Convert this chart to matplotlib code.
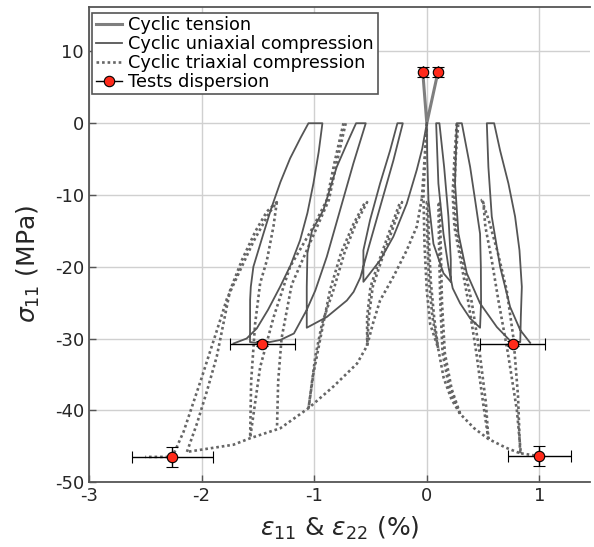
import matplotlib
matplotlib.use("Agg")
import matplotlib.pyplot as plt

plt.rcParams['font.family'] = ['DejaVu Sans']
plt.rcParams['mathtext.fontset'] = 'dejavusans'
plt.rcParams['axes.unicode_minus'] = False

# ---- cyclic tension (two short branches from the origin)
tens_x = [-0.036, 0.0, 0.10]
tens_y = [7.2, 0.0, 7.2]

# ---- cyclic uniaxial compression, axial strain (left)
uni_ax_x = [0, -0.04, -0.089, -0.178, -0.297, -0.415, -0.563,
            -0.563, -0.504, -0.415, -0.326, -0.261, -0.213,
            -0.297, -0.415, -0.52, -0.59, -0.65, -0.71, -0.888, -1.066,
            -1.066, -1.06, -1.02, -0.918, -0.80, -0.70, -0.628, -0.542,
            -0.652, -0.77, -0.888, -0.99, -1.066, -1.18, -1.30, -1.46, -1.57,
            -1.569, -1.563, -1.54, -1.451, -1.38, -1.30, -1.214, -1.12, -1.051, -0.927,
            -0.96, -1.007, -1.06, -1.125, -1.21, -1.303, -1.41, -1.51, -1.60, -1.717]
uni_ax_y = [0, -3.5, -6.5, -11.2, -15.8, -19.1, -22.1,
            -17.7, -13.5, -8.4, -3.8, 0, 0,
            -5.2, -11.7, -17.5, -21.5, -23.5, -24.7, -27.0, -28.5,
            -22.8, -18.1, -15.0, -12.1, -6.1, -2.5, 0, 0,
            -5.6, -12.1, -18.6, -23.3, -26.0, -29.3, -30.2, -30.7, -30.5,
            -24.6, -22.8, -20.0, -15.4, -11.8, -8.2, -4.9, -2.0, 0, 0,
            -4.0, -8.4, -12.5, -16.3, -19.8, -22.8, -26.0, -28.6, -30.0, -30.7]

# ---- cyclic uniaxial compression, lateral strain (right)
uni_lat_x = [0, 0.004, 0.015, 0.059, 0.148, 0.213,
             0.213, 0.192, 0.154, 0.112, 0.083,
             0.103, 0.148, 0.192, 0.23, 0.296, 0.385, 0.473,
             0.482, 0.48, 0.473, 0.429, 0.385, 0.311, 0.266,
             0.251, 0.281, 0.355, 0.473, 0.622, 0.764, 0.83,
             0.835, 0.844, 0.823, 0.784, 0.725, 0.651, 0.598, 0.533,
             0.547, 0.577, 0.651, 0.74, 0.829, 0.918]
uni_lat_y = [0, -5.0, -10.7, -16.8, -20.9, -22.1,
             -19.0, -13.0, -6.1, 0, 0,
             -8.4, -15.4, -20.0, -23.0, -25.1, -27.2, -28.5,
             -25.0, -20.0, -15.4, -10.7, -6.1, 0, 0,
             -8.4, -15.4, -20.9, -25.1, -28.4, -30.7, -30.5,
             -27.0, -22.8, -17.7, -13.0, -8.4, -3.8, 0, 0,
             -6.1, -13.0, -20.0, -25.6, -28.8, -30.6]

# ---- cyclic triaxial compression, axial strain (left)
tri_hyd_x = [0.0, -0.02, -0.044]
tri_hyd_y = [0.0, -5.0, -10.5]
tri_ax_env_x = [-0.044, -0.089, -0.178, -0.297, -0.415, -0.48, -0.53, -0.62,
                -0.83, -1.05, -1.30, -1.569, -1.717, -2.13]
tri_ax_env_y = [-10.5, -14.4, -17.7, -21.4, -24.7, -28.0, -31.0, -33.5,
                -36.7, -39.7, -42.5, -43.9, -44.8, -45.8]
tri_ax_l1_x = [-0.53, -0.53, -0.50, -0.42, -0.33, -0.237,
               -0.22, -0.31, -0.40, -0.48, -0.515, -0.53]
tri_ax_l1_y = [-31.0, -27.0, -22.8, -19.0, -15.0, -11.0,
               -11.0, -15.0, -19.0, -22.8, -27.0, -31.0]
tri_ax_l2_x = [-1.05, -1.007, -0.948, -0.86, -0.76, -0.65, -0.548,
               -0.53, -0.63, -0.73, -0.83, -0.93, -0.99, -1.05]
tri_ax_l2_y = [-39.7, -34.9, -30.2, -23.3, -18.0, -14.0, -11.0,
               -11.0, -14.0, -18.0, -23.3, -27.9, -32.5, -39.7]
tri_ax_l3a_x = [-0.74, -0.82, -0.888, -1.007, -1.214, -1.36, -1.48, -1.569]
tri_ax_l3a_y = [0.0, -5.5, -10.7, -14.4, -20.0, -27.0, -34.0, -43.9]
tri_ax_l3b_x = [-0.72, -0.80, -0.87, -0.99, -1.20, -1.29, -1.32, -1.33]
tri_ax_l3b_y = [0.0, -5.5, -10.7, -15.0, -22.5, -30.0, -36.0, -42.3]
tri_ax_in_x = [-1.332, -1.362, -1.42, -1.48, -1.525, -1.56, -1.569]
tri_ax_in_y = [-11.0, -14.4, -19.1, -22.3, -28.0, -36.0, -43.9]
tri_ax_l4_x = [-2.13, -2.04, -1.95, -1.865, -1.747, -1.64, -1.52, -1.42, -1.332,
               -1.40, -1.54, -1.658, -1.776, -1.836, -2.0, -2.16, -2.26, -2.5]
tri_ax_l4_y = [-45.8, -41.8, -37.2, -32.5, -23.3, -19.0, -15.0, -12.3, -11.0,
               -12.5, -16.5, -20.5, -24.5, -27.5, -35.5, -43.0, -46.5, -46.5]

# ---- cyclic triaxial compression, lateral strain (right)
tri_lat_hyd_x = [0.0, -0.015, -0.03]
tri_lat_hyd_y = [0.0, -5.0, -10.0]
tri_lat_env_x = [-0.03, -0.02, 0.0, 0.03, 0.1, 0.15, 0.22, 0.296, 0.42, 0.547,
                 0.7, 0.829]
tri_lat_env_y = [-10.0, -17.0, -23.3, -28.0, -31.3, -35.5, -38.5, -40.5, -42.5,
                 -44.0, -45.2, -46.0]
tri_lat_r1_x = [0.1, 0.05, 0.02, 0.005, 0.0, 0.012, 0.018, 0.035, 0.065, 0.1]
tri_lat_r1_y = [-31.3, -27.0, -22.0, -16.0, -11.0, -11.0, -16.0, -22.0, -27.0, -31.3]
tri_lat_r2_x = [0.296, 0.2, 0.14, 0.12, 0.11, 0.103,
                0.115, 0.125, 0.135, 0.16, 0.22, 0.296]
tri_lat_r2_y = [-40.5, -37.0, -32.0, -25.0, -18.0, -11.0,
                -11.0, -18.0, -25.0, -32.0, -37.0, -40.5]
tri_lat_r3_x = [0.547, 0.50, 0.44, 0.37, 0.30, 0.245, 0.23, 0.245, 0.266,
                0.28, 0.255, 0.245, 0.26, 0.325, 0.40, 0.47, 0.525, 0.547]
tri_lat_r3_y = [-44.0, -39.0, -32.0, -25.0, -19.1, -14.4, -9.8, -5.0, 0.0,
                0.0, -5.0, -9.8, -14.4, -19.5, -25.0, -32.0, -39.0, -44.0]
tri_lat_r4_x = [0.829, 0.81, 0.77, 0.71, 0.63, 0.55, 0.488,
                0.50, 0.52, 0.577, 0.636, 0.72, 0.80, 0.835, 1.0]
tri_lat_r4_y = [-46.0, -38.0, -30.0, -23.3, -18.0, -13.5, -10.7,
                -10.7, -14.4, -19.1, -24.7, -32.0, -40.0, -46.0, -46.4]

# ---- tests dispersion (mean and scatter)
test_x = [-0.036, 0.10, -1.46, 0.764, -2.26, 1.0]
test_y = [7.2, 7.2, -30.7, -30.7, -46.5, -46.4]
test_xerr = [0.0, 0.0, 0.29, 0.29, 0.36, 0.28]
test_yerr = [0.7, 0.7, 0.4, 0.4, 1.35, 1.35]

fig = plt.figure(figsize=(5.94, 5.47), dpi=100)
ax = fig.add_axes([0.1498, 0.1188, 0.8434, 0.8684])

c_dark = '#262626'
dot_style = (0, (1, 1.1))

ax.plot(tens_x, tens_y, color='#7f7f7f', lw=2.2, label='Cyclic tension', zorder=3)
ax.plot(uni_ax_x, uni_ax_y, color='#555555', lw=1.3,
        label='Cyclic uniaxial compression', zorder=3)
ax.plot(uni_lat_x, uni_lat_y, color='#555555', lw=1.3, zorder=3)

tri_branches = [
    (tri_hyd_x, tri_hyd_y), (tri_ax_env_x, tri_ax_env_y),
    (tri_ax_l1_x, tri_ax_l1_y), (tri_ax_l2_x, tri_ax_l2_y),
    (tri_ax_l3a_x, tri_ax_l3a_y), (tri_ax_l3b_x, tri_ax_l3b_y),
    (tri_ax_in_x, tri_ax_in_y), (tri_ax_l4_x, tri_ax_l4_y),
    (tri_lat_hyd_x, tri_lat_hyd_y), (tri_lat_env_x, tri_lat_env_y),
    (tri_lat_r1_x, tri_lat_r1_y), (tri_lat_r2_x, tri_lat_r2_y),
    (tri_lat_r3_x, tri_lat_r3_y), (tri_lat_r4_x, tri_lat_r4_y),
]
for i, (bx, by) in enumerate(tri_branches):
    ax.plot(bx, by, color='#666666', lw=1.9, linestyle=dot_style, zorder=2,
            label='Cyclic triaxial compression' if i == 0 else None)

ax.errorbar(test_x, test_y, xerr=test_xerr, yerr=test_yerr, fmt='o',
            color='black', ecolor='black', elinewidth=1.0, capsize=4,
            markersize=7.5, markerfacecolor='#ff2a1a', markeredgecolor='black',
            markeredgewidth=0.8, zorder=5)
# legend entry for the test points
ax.plot([], [], '-o', color='black', lw=1.0, markersize=7.5,
        markerfacecolor='#ff2a1a', markeredgecolor='black',
        markeredgewidth=0.8, label='Tests dispersion')

ax.set_xlim(-3, 1.449)
ax.set_ylim(-50, 16.2)
ax.set_xticks([-3, -2, -1, 0, 1])
ax.set_yticks([-50, -40, -30, -20, -10, 0, 10])
ax.grid(True, color='#d0d0d0', lw=1.0)
ax.set_axisbelow(True)

for s in ['left', 'bottom', 'top']:
    ax.spines[s].set_color('#555555')
    ax.spines[s].set_linewidth(1.3)
ax.spines['right'].set_visible(False)
ax.tick_params(direction='in', length=5, width=1, colors='#555555',
               labelcolor=c_dark, labelsize=13, top=False, right=False)

ax.set_xlabel(r'$\varepsilon_{11}$ & $\varepsilon_{22}$ (%)', fontsize=18,
              color=c_dark, labelpad=7)
ax.set_ylabel(r'$\sigma_{11}$ (MPa)', fontsize=18, color=c_dark)
ax.yaxis.set_label_coords(-0.094, 0.46)

leg = ax.legend(loc='upper left', bbox_to_anchor=(0.006, 0.988), borderaxespad=0,
                fontsize=12.8, handlelength=1.5, handletextpad=0.35,
                borderpad=0.2, labelspacing=0.05, fancybox=False, framealpha=1)
leg.get_frame().set_edgecolor('#555555')
leg.get_frame().set_linewidth(1.2)

fig.savefig('out.png', dpi=100)
